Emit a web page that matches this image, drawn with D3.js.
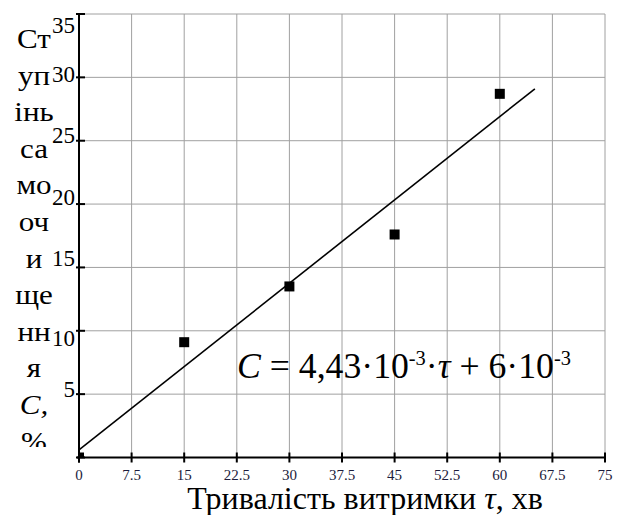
<!DOCTYPE html>
<html>
<head>
<meta charset="utf-8">
<script src="https://cdn.jsdelivr.net/npm/d3@7.9.0/dist/d3.min.js"></script>
<style>
  body { margin: 0; background: #fff; }
</style>
</head>
<body>
<svg id="chart" width="618" height="515"></svg>
<script>
// measured points
const tau = [0, 15, 30, 45, 60];
const selfClean = [0, 9.1, 13.5, 17.6, 28.7];

// fitted line, end points
const lineTau = [0, 65];
const lineC = [0.6, 29.1];

const xTicks = [0, 7.5, 15, 22.5, 30, 37.5, 45, 52.5, 60, 67.5, 75];
const yTicks = [0, 5, 10, 15, 20, 25, 30, 35];
const yTitleParts = ['Ст', 'уп', 'інь', 'са', 'мо', 'оч', 'и', 'ще', 'нн', 'я', 'C,', '%'];

const FONT = 'Liberation Serif';
const svg = d3.select('#chart');
const x = d3.scaleLinear().domain([0, 75]).range([79, 605]);
const y = d3.scaleLinear().domain([0, 35]).range([457.5, 14]);

// grid
svg.append('g').selectAll('line').data(xTicks).join('line')
    .attr('x1', d => x(d)).attr('x2', d => x(d))
    .attr('y1', y(35)).attr('y2', y(0))
    .attr('stroke', '#a0a0a0').attr('stroke-width', 1);
svg.append('g').selectAll('line').data(yTicks).join('line')
    .attr('x1', x(0)).attr('x2', x(75))
    .attr('y1', d => y(d)).attr('y2', d => y(d))
    .attr('stroke', '#a0a0a0').attr('stroke-width', 1);

// axes
svg.append('line')
    .attr('x1', x(0) - 2).attr('x2', x(75) + 1)
    .attr('y1', y(0)).attr('y2', y(0))
    .attr('stroke', '#000').attr('stroke-width', 2);
svg.append('line')
    .attr('x1', x(0)).attr('x2', x(0))
    .attr('y1', y(35)).attr('y2', y(0) + 5)
    .attr('stroke', '#000').attr('stroke-width', 2);

svg.append('g').selectAll('line').data(xTicks).join('line')
    .attr('x1', d => x(d)).attr('x2', d => x(d))
    .attr('y1', y(0) - 5).attr('y2', y(0) + 5)
    .attr('stroke', '#000').attr('stroke-width', 2);
svg.append('g').selectAll('line').data(yTicks).join('line')
    .attr('x1', x(0) - 3).attr('x2', x(0) + 6)
    .attr('y1', d => y(d)).attr('y2', d => y(d))
    .attr('stroke', '#000').attr('stroke-width', 2);

// x tick labels
svg.append('g').selectAll('text').data(xTicks).join('text')
    .attr('x', d => x(d)).attr('y', 480)
    .attr('text-anchor', 'middle')
    .attr('font-family', FONT)
    .attr('font-size', 15)
    .attr('fill', '#1c1c3c')
    .text(d => d);

// y tick labels (no zero label), baselines shift a little like the original
const yLabelShift = { 35: 19, 30: 5, 25: 2, 20: 1, 15: -1, 10: 15, 5: 3 };
svg.append('g').selectAll('text').data(yTicks.filter(d => d > 0)).join('text')
    .attr('x', 75).attr('y', d => y(d) + yLabelShift[d])
    .attr('text-anchor', 'end')
    .attr('font-family', FONT)
    .attr('font-size', 23)
    .text(d => d);

// y title, broken into short lines, clipped at the bottom
svg.append('clipPath').attr('id', 'ytclip')
    .append('rect').attr('x', 0).attr('y', 0).attr('width', 70).attr('height', 447);
svg.append('g').attr('clip-path', 'url(#ytclip)')
    .selectAll('text').data(yTitleParts).join('text')
    .attr('transform', (d, i) => `translate(34,${48 + i * 36.6}) scale(1.15,1)`)
    .attr('text-anchor', 'middle')
    .attr('font-family', FONT)
    .attr('font-size', 27)
    .attr('font-style', d => d === 'C,' ? 'italic' : 'normal')
    .text(d => d);

// x title
const xt = svg.append('text')
    .attr('x', 365).attr('y', 509)
    .attr('text-anchor', 'middle')
    .attr('font-family', FONT)
    .attr('font-size', 32);
xt.append('tspan').text('Тривалість витримки ');
xt.append('tspan').attr('font-style', 'italic').text('τ');
xt.append('tspan').text(', хв');

// fitted line
const lineData = lineTau.map((t, i) => [t, lineC[i]]);
svg.append('path')
    .datum(lineData)
    .attr('d', d3.line().x(d => x(d[0])).y(d => y(d[1])))
    .attr('fill', 'none').attr('stroke', '#000').attr('stroke-width', 1.6);

// points, clipped to the plot area
svg.append('clipPath').attr('id', 'plotclip')
    .append('rect').attr('x', x(0)).attr('y', 0).attr('width', 540).attr('height', y(0));
svg.append('g').attr('clip-path', 'url(#plotclip)')
    .selectAll('rect').data(tau).join('rect')
    .attr('x', d => x(d) - 5)
    .attr('y', (d, i) => y(selfClean[i]) - 5)
    .attr('width', 10).attr('height', 10)
    .attr('fill', '#000');

// equation
const eq = svg.append('text')
    .attr('transform', 'translate(237,378) scale(1.02,1)')
    .attr('font-family', FONT)
    .attr('font-size', 35);
eq.append('tspan').attr('font-style', 'italic').text('C');
eq.append('tspan').text(' = 4,43·10');
eq.append('tspan').attr('font-size', 20).attr('dy', -13).text('-3');
eq.append('tspan').attr('dy', 13).text('·');
eq.append('tspan').attr('font-style', 'italic').text('τ');
eq.append('tspan').text(' + 6·10');
eq.append('tspan').attr('font-size', 20).attr('dy', -13).text('-3');
</script>
</body>
</html>
